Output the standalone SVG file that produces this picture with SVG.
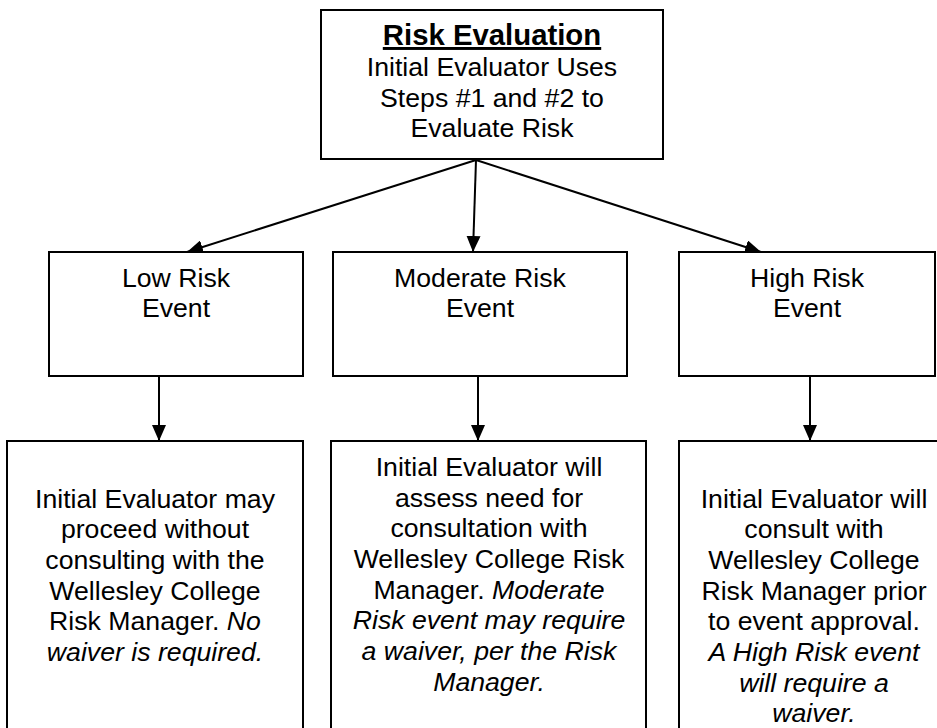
<svg xmlns="http://www.w3.org/2000/svg" width="937" height="728" viewBox="0 0 937 728">
<defs>
<marker id="ah" markerUnits="userSpaceOnUse" markerWidth="16" markerHeight="14" viewBox="0 0 16 14" refX="16" refY="7" orient="auto">
<path d="M0,0 L16,7 L0,14 Z" fill="#000"/>
</marker>
<style>
.box{fill:#fff;stroke:#000;stroke-width:2}
.t{font-family:"Liberation Sans",Arial,sans-serif;font-size:26.67px;fill:#000;text-anchor:middle}
.title{font-weight:bold;font-size:29.33px;text-decoration:underline}
.i{font-style:italic}
.c{fill:none;stroke:#000;stroke-width:2;marker-end:url(#ah)}
</style>
</defs>
<rect width="937" height="728" fill="#fff"/>
<g id="connectors">
<line class="c" x1="476" y1="160" x2="187" y2="252"/>
<line class="c" x1="476" y1="160" x2="473" y2="252"/>
<line class="c" x1="476" y1="160" x2="761" y2="252"/>
<line class="c" x1="159" y1="376" x2="159" y2="441"/>
<line class="c" x1="478" y1="376" x2="478" y2="441"/>
<line class="c" x1="810" y1="376" x2="810" y2="441"/>
</g>
<g id="risk-evaluation">
<rect class="box" x="321" y="10" width="342" height="149"/>
<text class="t title" x="492" y="45">Risk Evaluation</text>
<text class="t" x="492" y="76">Initial Evaluator Uses</text>
<text class="t" x="492" y="106.5">Steps #1 and #2 to</text>
<text class="t" x="492" y="137">Evaluate Risk</text>
</g>
<g id="low-risk">
<rect class="box" x="49" y="252" width="254" height="124"/>
<text class="t" x="176" y="287">Low Risk</text>
<text class="t" x="176" y="317">Event</text>
</g>
<g id="moderate-risk">
<rect class="box" x="333" y="252" width="294" height="124"/>
<text class="t" x="480" y="287">Moderate Risk</text>
<text class="t" x="480" y="317">Event</text>
</g>
<g id="high-risk">
<rect class="box" x="679" y="252" width="256" height="124"/>
<text class="t" x="807" y="287">High Risk</text>
<text class="t" x="807" y="317">Event</text>
</g>
<g id="low-action">
<rect class="box" x="7" y="441" width="296" height="300"/>
<text class="t" x="155" y="507.5">Initial Evaluator may</text>
<text class="t" x="155" y="538.2">proceed without</text>
<text class="t" x="155" y="568.8">consulting with the</text>
<text class="t" x="155" y="599.5">Wellesley College</text>
<text class="t" x="155" y="630.2">Risk Manager. <tspan class="i">No</tspan></text>
<text class="t i" x="155" y="660.8">waiver is required.</text>
</g>
<g id="moderate-action">
<rect class="box" x="331" y="441" width="315" height="300"/>
<text class="t" x="489" y="476">Initial Evaluator will</text>
<text class="t" x="489" y="506.7">assess need for</text>
<text class="t" x="489" y="537.3">consultation with</text>
<text class="t" x="489" y="568">Wellesley College Risk</text>
<text class="t" x="489" y="598.7">Manager. <tspan class="i">Moderate</tspan></text>
<text class="t i" x="489" y="629.3">Risk event may require</text>
<text class="t i" x="489" y="660">a waiver, per the Risk</text>
<text class="t i" x="489" y="690.7">Manager.</text>
</g>
<g id="high-action">
<rect class="box" x="679" y="441" width="270" height="300"/>
<text class="t" x="814" y="507.5">Initial Evaluator will</text>
<text class="t" x="814" y="538.2">consult with</text>
<text class="t" x="814" y="568.8">Wellesley College</text>
<text class="t" x="814" y="599.5">Risk Manager prior</text>
<text class="t" x="814" y="630.2">to event approval.</text>
<text class="t i" x="814" y="660.8">A High Risk event</text>
<text class="t i" x="814" y="691.5">will require a</text>
<text class="t i" x="814" y="722.2">waiver.</text>
</g>
</svg>
